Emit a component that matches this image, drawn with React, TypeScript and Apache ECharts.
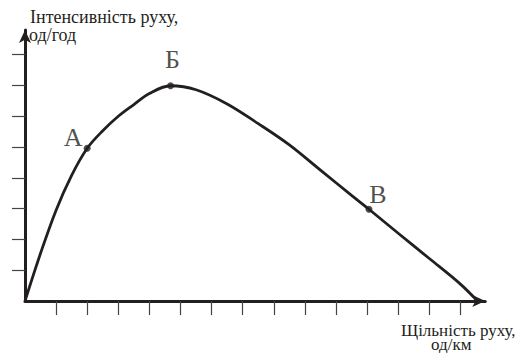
import React, { useEffect, useRef } from "react";
import * as echarts from "echarts";

// Curve: traffic intensity vs density (axis units = tick steps)
const curveX = [0, 0.5, 1.0, 1.5, 2.0, 2.5, 3.0, 3.5, 4.0, 4.68, 5.5, 6.5, 7.5, 8.5, 9.5, 10.5, 11.06, 12.0, 13.0, 14.0, 14.55];
const curveY = [0, 1.55, 2.95, 4.08, 4.96, 5.53, 6.0, 6.38, 6.74, 6.99, 6.86, 6.4, 5.76, 5.07, 4.25, 3.43, 2.98, 2.2, 1.38, 0.55, 0];

// Marked points
const pointNames = ["А", "Б", "В"];
const pointX = [2.0, 4.68, 11.06];
const pointY = [4.96, 6.99, 2.98];

// Tick positions (no numeric labels)
const xTicks = [1, 2, 3, 4, 5, 6, 7, 8, 9, 10, 11, 12, 13, 14];
const yTicks = [1, 2, 3, 4, 5, 6, 7, 8];

// Axis titles
const yTitle = ["Інтенсивність руху,", "од/год"];
const xTitle = ["Щільність руху,", "од/км"];

const INK = "#231f20";
const FONT = "'Liberation Serif', 'Times New Roman', serif";

// label offsets (px) for the point names
const labelOffsets = [
  [-14, -11],
  [2, -26],
  [9, -15],
];

export default function App() {
  const ref = useRef<HTMLDivElement>(null);
  useEffect(() => {
    if (!ref.current) return;
    const chart = echarts.init(ref.current, undefined, { renderer: "svg" });
    const option: any = {
      animation: false,
      backgroundColor: "#ffffff",
      grid: {
        left: 25,
        top: 30,
        width: 14.8 * 31.1,
        height: 8.8 * 30.8,
        outerBoundsMode: "none",
        containLabel: false,
      },
      xAxis: {
        type: "value",
        min: 0,
        max: 14.8,
        interval: 1,
        axisLine: {
          show: true,
          onZero: false,
          symbol: ["none", "arrow"],
          symbolSize: [9, 13],
          lineStyle: { color: INK, width: 3 },
        },
        axisTick: {
          show: true,
          customValues: xTicks,
          length: 14,
          lineStyle: { color: "#444", width: 1.2 },
        },
        axisLabel: { show: false },
        splitLine: { show: false },
      },
      yAxis: {
        type: "value",
        min: 0,
        max: 8.8,
        interval: 1,
        axisLine: {
          show: true,
          onZero: false,
          symbol: ["none", "arrow"],
          symbolSize: [9, 13],
          lineStyle: { color: INK, width: 3 },
        },
        axisTick: {
          show: true,
          customValues: yTicks,
          length: 13,
          lineStyle: { color: "#444", width: 1.2 },
        },
        axisLabel: { show: false },
        splitLine: { show: false },
      },
      series: [
        {
          type: "line",
          data: curveX.map((x, i) => [x, curveY[i]]),
          showSymbol: false,
          smooth: 0.35,
          lineStyle: { color: INK, width: 2.8 },
          z: 3,
        },
        {
          type: "scatter",
          data: pointX.map((x, i) => ({
            value: [x, pointY[i]],
            name: pointNames[i],
            label: { offset: labelOffsets[i] },
          })),
          symbolSize: 7,
          itemStyle: { color: INK },
          z: 4,
          label: {
            show: true,
            position: "inside",
            formatter: (p: any) => p.name,
            fontFamily: FONT,
            fontSize: 26,
            color: INK,
            align: "center",
            verticalAlign: "middle",
          },
        },
      ],
      graphic: [
        {
          type: "text",
          x: 30,
          y: 16.5,
          style: { text: yTitle[0], font: `18px ${FONT}`, fill: INK, verticalAlign: "middle" },
        },
        {
          type: "text",
          x: 29,
          y: 34.5,
          style: { text: yTitle[1], font: `18px ${FONT}`, fill: INK, verticalAlign: "middle" },
        },
        {
          type: "text",
          x: 401,
          y: 330.5,
          style: { text: xTitle[0], font: `17px ${FONT}`, fill: INK, verticalAlign: "middle" },
        },
        {
          type: "text",
          x: 431,
          y: 344.5,
          style: { text: xTitle[1], font: `17px ${FONT}`, fill: INK, verticalAlign: "middle" },
        },
      ],
    };
    chart.setOption(option);
    return () => chart.dispose();
  }, []);
  return (
    <div
      ref={ref}
      style={{ position: "absolute", left: 0, top: 0, width: 523, height: 353 }}
    />
  );
}
